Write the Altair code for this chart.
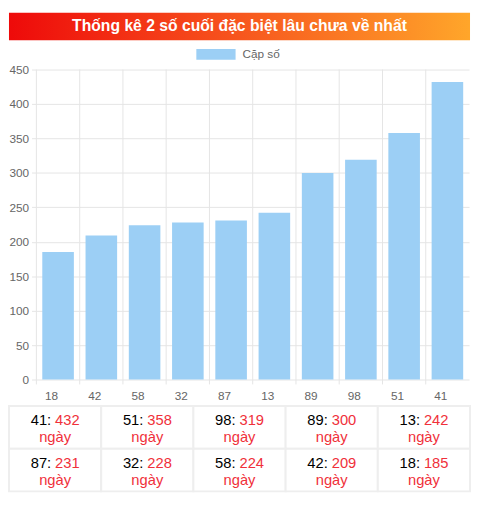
import altair as alt
import pandas as pd

TITLE = "Thống kê 2 số cuối đặc biệt lâu chưa về nhất"
SERIES = "Cặp số"
UNIT = "ngày"

# pairs in the order they appear on the x axis, with their "days absent" counts
pairs = ["18", "42", "58", "32", "87", "13", "89", "98", "51", "41"]
days = [185, 209, 224, 228, 231, 242, 300, 319, 358, 432]
y_ticks = [0, 50, 100, 150, 200, 250, 300, 350, 400, 450]

FONT = "Liberation Sans"
BLUE = "#9ccff5"
GRID = "#e4e4e4"
TXT = "#666666"
RED = "#f0303a"

# layout, in plot coordinates (origin = top-left of the bar plot)
PLOT_W = 441
PLOT_H = 316
LEFT = -28
RIGHT = PLOT_W + 1
HEAD_TOP, HEAD_BOT = -58, -30
LEG_TOP, LEG_BOT = -21, -10
LEG_X = 163
TABLE_TOP, TABLE_BOT = 343, 430

bars_df = pd.DataFrame({"pair": pairs, "days": days})

# header bar with gradient
title_df = pd.DataFrame({"t": [TITLE]})
grad = alt.Gradient(
    gradient="linear",
    stops=[alt.GradientStop(color="#ee0a0a", offset=0),
           alt.GradientStop(color="#f7561e", offset=0.5),
           alt.GradientStop(color="#ffa62a", offset=1)],
    x1=0, x2=1, y1=0, y2=0,
)
head_rect = alt.Chart(title_df).mark_rect(color=grad).encode(
    x=alt.value(LEFT), x2=alt.value(RIGHT), y=alt.value(HEAD_TOP), y2=alt.value(HEAD_BOT)
)
head_text = alt.Chart(title_df).mark_text(
    font=FONT, fontSize=16, fontWeight="bold", color="white", baseline="middle"
).encode(text="t:N", x=alt.value((LEFT + RIGHT) / 2), y=alt.value((HEAD_TOP + HEAD_BOT) / 2))

# legend box + label
leg_df = pd.DataFrame({"s": [SERIES]})
leg_box = alt.Chart(leg_df).mark_rect(color=BLUE).encode(
    x=alt.value(LEG_X), x2=alt.value(LEG_X + 40), y=alt.value(LEG_TOP), y2=alt.value(LEG_BOT)
)
leg_text = alt.Chart(leg_df).mark_text(
    font=FONT, fontSize=12, color=TXT, align="left", baseline="middle"
).encode(text="s:N", x=alt.value(LEG_X + 47), y=alt.value((LEG_TOP + LEG_BOT) / 2))

# bar chart
x_scale = alt.Scale(paddingInner=0.27, paddingOuter=0.135)
bars = alt.Chart(bars_df).mark_bar(color=BLUE).encode(
    x=alt.X("pair:N", sort=pairs, title=None, scale=x_scale,
            axis=alt.Axis(labelAngle=0, ticks=False, domain=False, grid=False,
                          labelPadding=16, labelFontSize=12, labelColor=TXT, labelFont=FONT)),
    y=alt.Y("days:Q", title=None,
            scale=alt.Scale(domain=[0, 450], nice=False),
            axis=alt.Axis(values=y_ticks, grid=True, gridColor=GRID, domain=False,
                          tickColor=GRID, tickSize=5, labelPadding=3,
                          labelFontSize=12, labelColor=TXT, labelFont=FONT)),
)
vlines = alt.Chart(bars_df).mark_rule(color=GRID, strokeWidth=1, xOffset=-6).encode(
    x=alt.X("pair:N", sort=pairs, bandPosition=0, scale=x_scale),
    y=alt.value(0), y2=alt.value(PLOT_H + 5),
)
plot = alt.layer(vlines, bars)

# summary table, longest absence first
order = sorted(range(len(pairs)), key=lambda i: -days[i])
tbl = pd.DataFrame({
    "col": [k % 5 for k in range(len(order))],
    "row": [k // 5 for k in range(len(order))],
    "lead": [pairs[i] + ":" for i in order],
    "val": [str(days[i]) for i in order],
    "unit": UNIT,
})
tx = alt.X("col:O", axis=None,
           scale=alt.Scale(range=[LEFT, RIGHT], paddingInner=0, paddingOuter=0))
ty = alt.Y("row:O", axis=None,
           scale=alt.Scale(range=[TABLE_TOP, TABLE_BOT], paddingInner=0, paddingOuter=0))
cells = alt.Chart(tbl).mark_rect(fill="white", stroke="#eeeeee", strokeWidth=2).encode(x=tx, y=ty)
lead = alt.Chart(tbl).mark_text(font=FONT, fontSize=15, color="black", align="right",
                                 baseline="middle", dx=-4, dy=-7).encode(x=tx, y=ty, text="lead:N")
val = alt.Chart(tbl).mark_text(font=FONT, fontSize=15, color=RED, align="left",
                                baseline="middle", dy=-7).encode(x=tx, y=ty, text="val:N")
unit = alt.Chart(tbl).mark_text(font=FONT, fontSize=15, color=RED, align="center",
                                 baseline="middle", dy=10).encode(x=tx, y=ty, text="unit:N")
table = alt.layer(cells, lead, val, unit)

chart = alt.layer(plot, table, head_rect, head_text, leg_box, leg_text).resolve_scale(
    x="independent", y="independent"
).properties(width=PLOT_W, height=PLOT_H, padding=0).configure_view(stroke=None)

chart.save("out.html", embed_options={"renderer": "svg", "actions": False})
